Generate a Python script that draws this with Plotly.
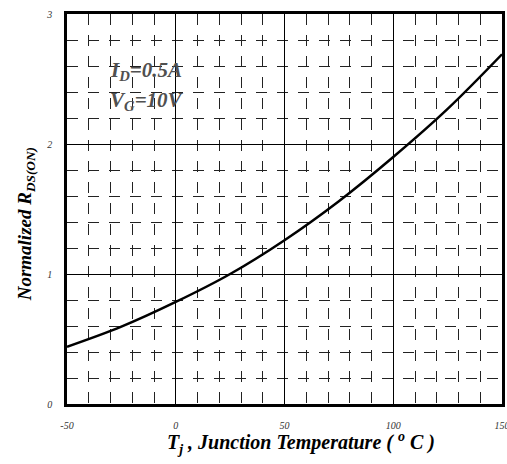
import plotly.graph_objects as go

temps = [-50, -25, 0, 25, 50, 75, 100, 125, 150]
rds_norm = [0.44, 0.595, 0.785, 1.0, 1.26, 1.56, 1.90, 2.27, 2.69]
x_ticks = [-50, 0, 50, 100, 150]
y_ticks = [0, 1, 2, 3]

fig = go.Figure()
fig.add_trace(go.Scatter(x=temps, y=rds_norm, mode="lines",
                         line=dict(color="black", width=2.5, shape="spline"),
                         showlegend=False, hoverinfo="skip"))

serif = "Liberation Serif"
tickfont = dict(family=serif, size=10, color="#333", style="italic")
fig.update_xaxes(range=[-50, 150], tickvals=x_ticks, ticktext=[str(v) for v in x_ticks],
                 showgrid=True, gridcolor="black", gridwidth=1,
                 minor=dict(dtick=10, showgrid=True, gridcolor="#222", griddash="11px,10px", gridwidth=1),
                 showline=True, linecolor="black", linewidth=2.5, mirror=True,
                 ticks="", zeroline=False, tickfont=tickfont, ticklabelstandoff=10,
                 ticklabeloverflow="allow", automargin=False, fixedrange=True)
fig.update_yaxes(range=[0, 3], tickvals=y_ticks, ticktext=[str(v) for v in y_ticks],
                 showgrid=True, gridcolor="black", gridwidth=1,
                 minor=dict(dtick=0.2, showgrid=True, gridcolor="#222", griddash="11px,10px", gridwidth=1),
                 showline=True, linecolor="black", linewidth=2.5, mirror=True,
                 ticks="", zeroline=False, tickfont=tickfont, ticklabelstandoff=10,
                 ticklabeloverflow="allow", automargin=False, fixedrange=True)

fig.update_layout(
    width=507, height=464,
    margin=dict(l=67, r=5, t=14, b=60, autoexpand=False),
    paper_bgcolor="white", plot_bgcolor="white",
    font=dict(family=serif),
    annotations=[
        dict(text="<b><i>T<sub>j</sub> , Junction Temperature ( <sup>o</sup> C )</i></b>",
             xref="paper", yref="paper", x=0.538, y=-0.10, showarrow=False,
             xanchor="center", yanchor="middle", font=dict(family=serif, size=20, color="black")),
        dict(text="<b><i>Normalized R<sub>DS(ON)</sub></i></b>",
             xref="paper", yref="paper", x=-0.094, y=0.461, showarrow=False, textangle=-90,
             xanchor="center", yanchor="middle", font=dict(family=serif, size=19, color="black")),
        dict(text="<b><i>I<sub>D</sub>=0.5A</i></b>",
             xref="paper", yref="paper", x=0.094, y=0.855, showarrow=False,
             xanchor="left", yanchor="middle", font=dict(family=serif, size=21, color="#505050")),
        dict(text="<b><i>V<sub>G</sub>=10V</i></b>",
             xref="paper", yref="paper", x=0.094, y=0.778, showarrow=False,
             xanchor="left", yanchor="middle", font=dict(family=serif, size=21, color="#505050")),
    ],
)

fig.write_html("out.html", config={"displayModeBar": False},
               post_script="document.body.style.margin='0';document.body.style.overflow='hidden';")
